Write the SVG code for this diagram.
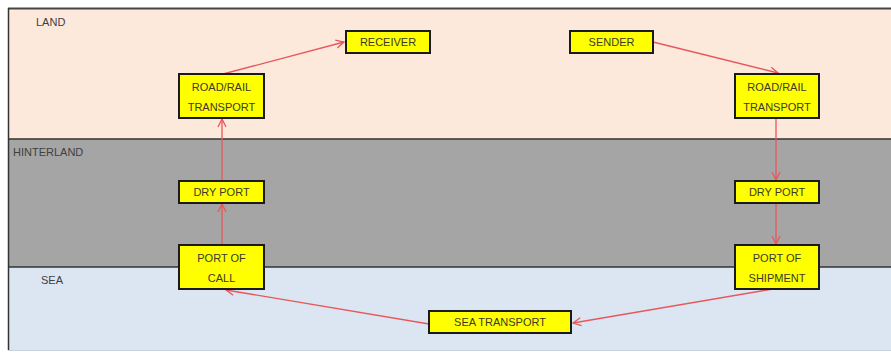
<svg xmlns="http://www.w3.org/2000/svg" width="891" height="353" viewBox="0 0 891 353">
<defs>
<marker id="arr" markerWidth="12" markerHeight="12" refX="9" refY="5" orient="auto" markerUnits="userSpaceOnUse">
<path d="M1,1 L9,5 L1,9" fill="none" stroke="#e8575a" stroke-width="1.3"/>
</marker>
<style>
.node rect{fill:#ffff00;stroke:#1a1a1a;stroke-width:2}
.node text{font-family:"Liberation Sans",Arial,sans-serif;font-size:11px;fill:#3a3a28;text-anchor:middle}
.zone{font-family:"Liberation Sans",Arial,sans-serif;font-size:11px;fill:#404040}
.conn line{stroke:#e8575a;stroke-width:1.3;marker-end:url(#arr)}
</style>
</defs>
<rect width="891" height="353" fill="#ffffff"/>
<g id="bands">
<rect x="8" y="8" width="883" height="131" fill="#fce9dc"/>
<rect x="8" y="139" width="883" height="128" fill="#a5a5a5"/>
<rect x="8" y="267" width="883" height="83" fill="#dce6f2"/>
<line x1="8" y1="8.5" x2="891" y2="8.5" stroke="#444" stroke-width="2"/>
<line x1="8" y1="139" x2="891" y2="139" stroke="#333" stroke-width="1.5"/>
<line x1="8" y1="267" x2="891" y2="267" stroke="#333" stroke-width="1.5"/>
<line x1="8.5" y1="8" x2="8.5" y2="350" stroke="#333" stroke-width="1.5"/>
<line x1="8" y1="350.5" x2="891" y2="350.5" stroke="#c8d0da" stroke-width="1"/>
<text class="zone" x="36" y="26">LAND</text>
<text class="zone" x="13" y="156">HINTERLAND</text>
<text class="zone" x="41" y="284">SEA</text>
</g>
<g id="connectors" class="conn">
<line x1="223" y1="74" x2="344" y2="42"/>
<line x1="653" y1="42" x2="778" y2="73"/>
<line x1="776" y1="118" x2="776" y2="180"/>
<line x1="776" y1="203" x2="776" y2="244"/>
<line x1="773" y1="289" x2="573" y2="323"/>
<line x1="429" y1="324" x2="226" y2="290"/>
<line x1="222" y1="245" x2="222" y2="204"/>
<line x1="222" y1="181" x2="222" y2="119"/>
</g>
<g id="receiver" class="node"><rect x="346" y="31" width="84" height="22"/><text x="388" y="46">RECEIVER</text></g>
<g id="sender" class="node"><rect x="570" y="31" width="83" height="22"/><text x="611.5" y="46">SENDER</text></g>
<g id="roadrail-left" class="node"><rect x="179" y="74" width="85" height="44"/><text x="221.5" y="91">ROAD/RAIL</text><text x="221.5" y="111">TRANSPORT</text></g>
<g id="roadrail-right" class="node"><rect x="735" y="74" width="84" height="44"/><text x="777" y="91">ROAD/RAIL</text><text x="777" y="111">TRANSPORT</text></g>
<g id="dryport-left" class="node"><rect x="179" y="181" width="85" height="22"/><text x="221.5" y="196">DRY PORT</text></g>
<g id="dryport-right" class="node"><rect x="735" y="181" width="84" height="22"/><text x="777" y="196">DRY PORT</text></g>
<g id="port-of-call" class="node"><rect x="179" y="245" width="85" height="44"/><text x="221.5" y="262">PORT OF</text><text x="221.5" y="282">CALL</text></g>
<g id="port-of-shipment" class="node"><rect x="735" y="245" width="84" height="44"/><text x="777" y="262">PORT OF</text><text x="777" y="282">SHIPMENT</text></g>
<g id="sea-transport" class="node"><rect x="429" y="311" width="142" height="22"/><text x="500" y="326">SEA TRANSPORT</text></g>
</svg>
